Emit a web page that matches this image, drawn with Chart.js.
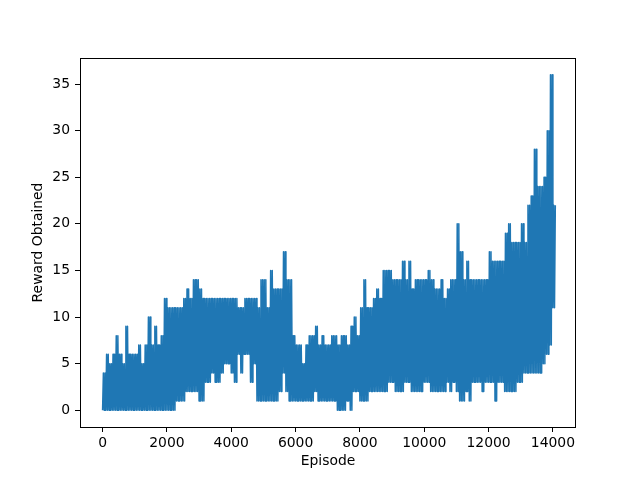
<!DOCTYPE html>
<html>
<head>
<meta charset="utf-8">
<script src="https://cdn.jsdelivr.net/npm/chart.js@4.4.0/dist/chart.umd.min.js"></script>
<style>
  html, body { margin: 0; padding: 0; background: #fff; }
</style>
</head>
<body>
<canvas id="myChart" width="640" height="480"></canvas>
<script>
// rewards, one high and one low value per block of 100 episodes
const blockSize = 100;
const highs = [
  4, 6, 5, 6, 8, 6, 5, 9, 6, 6, 6, 7, 5, 7, 10, 7, 9, 7, 8,
  12, 11, 11, 11, 11, 11, 12, 13, 12, 14, 14,
  13, 12, 12, 12, 12, 12, 12, 12, 12, 12,
  12, 12, 11, 11, 12, 12, 12, 12, 11, 14,
  14, 11, 15, 13, 13, 13, 17, 14, 14, 8,
  7, 7, 5, 7, 8, 8, 9, 7, 8, 7,
  7, 8, 8, 7, 8, 8, 7, 9, 10, 8,
  11, 14, 11, 11, 12, 13, 12, 15, 15, 15,
  14, 14, 14, 16, 14, 16, 13, 14, 14, 14,
  14, 15, 14, 13, 13, 14, 12, 13, 14, 14,
  20, 17, 14, 16, 14, 14, 14, 14, 14, 14,
  17, 16, 16, 16, 16, 19, 20, 18, 18, 18,
  20, 18, 22, 23, 28, 24, 24, 25, 30, 36, 22
];
const lows = [
  0, 0, 0, 0, 0, 0, 0, 0, 0, 0, 0, 0, 0, 0, 0, 0, 0, 0, 0, 0, 0, 0,
  0, 1, 1, 1, 2, 2, 2, 2,
  1, 1, 3, 3, 4, 3, 3, 4, 5, 5,
  4, 3, 6, 4, 6, 6, 3, 5, 1, 1,
  1, 1, 1, 1, 1, 2, 4, 2, 1, 1,
  1, 1, 1, 1, 1, 1, 2, 1, 1, 1,
  1, 1, 1, 0, 0, 0, 1, 0, 2, 2,
  1, 1, 1, 2, 2, 2, 2, 2, 2, 3,
  3, 2, 2, 2, 3, 3, 2, 2, 2, 2,
  3, 3, 2, 2, 2, 2, 2, 3, 2, 3,
  2, 1, 1, 2, 1, 3, 3, 3, 2, 3,
  3, 3, 1, 3, 3, 2, 2, 2, 2, 3,
  3, 4, 4, 4, 4, 4, 4, 5, 6, 7, 11
];
const xTicks = [0, 2000, 4000, 6000, 8000, 10000, 12000, 14000];
const yTicks = [0, 5, 10, 15, 20, 25, 30, 35];

// the reward swings between low and high inside every block
const points = [];
highs.forEach((hi, i) => {
  const lo = lows[i];
  [lo, hi, lo, hi].forEach((v, k) => {
    points.push({ x: i * blockSize + k * (blockSize / 4), y: v });
  });
});

const font = { family: "DejaVu Sans", size: 13.9 };

// matplotlib style box round the plot
const frame = {
  id: "frame",
  afterDraw(chart) {
    const { ctx, chartArea: a } = chart;
    ctx.save();
    ctx.strokeStyle = "#000";
    ctx.lineWidth = 1;
    ctx.strokeRect(a.left + 0.5, a.top + 0.5, a.right - a.left - 1, a.bottom - a.top);
    ctx.restore();
  }
};

new Chart(document.getElementById("myChart").getContext("2d"), {
  type: "line",
  data: {
    datasets: [{
      data: points,
      borderColor: "#1f77b4",
      borderWidth: 1.5,
      borderJoinStyle: "round",
      pointRadius: 0,
      tension: 0,
      fill: false
    }]
  },
  options: {
    responsive: false,
    animation: false,
    devicePixelRatio: 1,
    layout: { padding: { left: 0, right: 64, top: 58, bottom: 0 } },
    plugins: { legend: { display: false }, tooltip: { enabled: false } },
    scales: {
      x: {
        type: "linear",
        min: -702,
        max: 14718,
        afterBuildTicks: axis => { axis.ticks = xTicks.map(v => ({ value: v })); },
        afterFit: axis => { axis.height = 53; },
        border: { display: false },
        grid: { drawOnChartArea: false, color: "#000", tickLength: 5 },
        ticks: { color: "#000", font, padding: 3, maxRotation: 0, autoSkip: false, callback: v => String(v) },
        title: { display: true, text: "Episode", color: "#000", font, padding: { top: 0, bottom: 10 } }
      },
      y: {
        type: "linear",
        min: -1.8,
        max: 37.8,
        afterBuildTicks: axis => { axis.ticks = yTicks.map(v => ({ value: v })); },
        afterFit: axis => { axis.width = 80; },
        border: { display: false },
        grid: { drawOnChartArea: false, color: "#000", tickLength: 5 },
        ticks: { color: "#000", font, padding: 5, autoSkip: false, callback: v => String(v) },
        title: { display: true, text: "Reward Obtained", color: "#000", font, padding: { top: 30, bottom: 0 } }
      }
    }
  },
  plugins: [frame]
});
</script>
</body>
</html>
